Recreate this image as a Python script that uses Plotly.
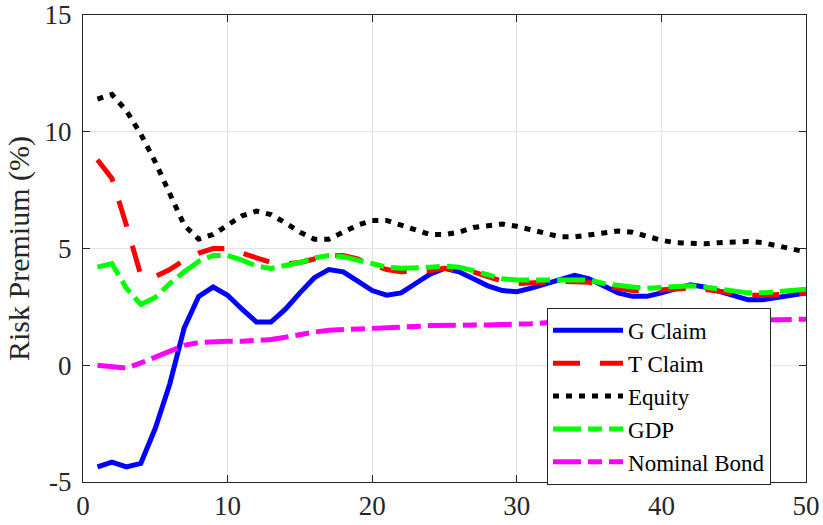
import plotly.graph_objects as go

x = list(range(1, 51))

g_claim = [-4.35, -4.15, -4.35, -4.2, -2.7, -0.8, 1.6, 2.95, 3.35, 3.0,
           2.4, 1.85, 1.85, 2.4, 3.1, 3.75, 4.1, 4.0, 3.6, 3.2,
           3.0, 3.1, 3.5, 3.9, 4.15, 4.0, 3.7, 3.4, 3.2, 3.15,
           3.3, 3.5, 3.7, 3.85, 3.7, 3.4, 3.1, 2.95, 2.95, 3.1,
           3.3, 3.45, 3.35, 3.15, 2.95, 2.8, 2.8, 2.9, 3.0, 3.1]

t_claim = [8.8, 8.0, 6.0, 3.85, 3.8, 4.1, 4.5, 4.8, 5.0, 5.0,
           4.8, 4.6, 4.4, 4.35, 4.4, 4.55, 4.7, 4.7, 4.55, 4.3,
           4.1, 4.0, 4.0, 4.05, 4.15, 4.1, 4.0, 3.8, 3.6, 3.5,
           3.5, 3.55, 3.6, 3.6, 3.55, 3.4, 3.3, 3.2, 3.2, 3.25,
           3.3, 3.3, 3.25, 3.15, 3.05, 3.0, 3.0, 3.0, 3.05, 3.1]

equity = [11.4, 11.6, 10.9, 9.9, 8.7, 7.3, 6.0, 5.4, 5.6, 6.0,
          6.4, 6.6, 6.45, 6.1, 5.7, 5.4, 5.4, 5.7, 6.0, 6.2,
          6.2, 6.0, 5.8, 5.6, 5.6, 5.7, 5.9, 6.0, 6.05, 5.95,
          5.8, 5.6, 5.5, 5.5, 5.6, 5.7, 5.75, 5.7, 5.5, 5.35,
          5.25, 5.2, 5.2, 5.25, 5.3, 5.3, 5.25, 5.1, 4.95, 4.85]

gdp = [4.2, 4.35, 3.3, 2.6, 2.9, 3.5, 4.0, 4.45, 4.7, 4.7,
       4.5, 4.25, 4.15, 4.25, 4.4, 4.6, 4.7, 4.65, 4.5, 4.3,
       4.2, 4.15, 4.15, 4.2, 4.25, 4.2, 4.05, 3.85, 3.7, 3.65,
       3.65, 3.7, 3.7, 3.7, 3.65, 3.5, 3.4, 3.35, 3.3, 3.35,
       3.4, 3.4, 3.35, 3.25, 3.15, 3.1, 3.1, 3.15, 3.2, 3.25]

nominal_bond = [0.0, -0.05, -0.12, 0.1, 0.35, 0.6, 0.85, 0.97, 1.02, 1.03,
                1.03, 1.05, 1.1, 1.2, 1.32, 1.42, 1.5, 1.52, 1.53, 1.55,
                1.58, 1.62, 1.66, 1.7, 1.72, 1.72, 1.72, 1.72, 1.73, 1.75,
                1.78, 1.82, 1.85, 1.87, 1.88, 1.88, 1.88, 1.88, 1.88, 1.88,
                1.88, 1.88, 1.9, 1.9, 1.92, 1.93, 1.94, 1.95, 1.96, 1.97]

names = ["G Claim", "T Claim", "Equity", "GDP", "Nominal Bond"]
colors = ["#0000ff", "#ff0000", "#000000", "#00ff00", "#ff00ff"]
dashes = ["solid", "27px,20px", "6px,7px", "28px,7px,14px,7px", "28px,7px,14px,7px"]
series = [g_claim, t_claim, equity, gdp, nominal_bond]

y_ticks = [-5, 0, 5, 10, 15]
y_ticktext = ["-5", "0", "5", "10", "15"]
x_ticks = [0, 10, 20, 30, 40, 50]

fig = go.Figure()
for name, ys, c, d in zip(names, series, colors, dashes):
    fig.add_trace(go.Scatter(x=x, y=ys, mode="lines", name=name,
                             line=dict(color=c, width=5, dash=d)))

font_family = "Times New Roman, Liberation Serif, serif"
axis_color = "#262626"

fig.update_layout(
    width=823, height=525,
    margin=dict(l=83, r=17, t=15, b=43),
    paper_bgcolor="white", plot_bgcolor="white",
    font=dict(family=font_family, size=27, color=axis_color),
    showlegend=True,
    legend=dict(x=0.6418, y=0.373, xanchor="left", yanchor="top",
                bgcolor="white", bordercolor=axis_color, borderwidth=1,
                font=dict(family=font_family, size=23, color="black"),
                itemwidth=70, tracegroupgap=0),
    xaxis=dict(range=[0, 50], tickvals=x_ticks, showgrid=True, automargin=False,
               gridcolor="#e3e3e3", gridwidth=1, zeroline=False,
               showline=True, linecolor=axis_color, linewidth=1, mirror="ticks",
               ticks="inside", ticklen=7, tickcolor=axis_color,
               tickfont=dict(family=font_family, size=27, color=axis_color)),
    yaxis=dict(range=[-5, 15], tickvals=y_ticks, ticktext=y_ticktext, automargin=False,
               showgrid=True, gridcolor="#e3e3e3", gridwidth=1, zeroline=False,
               showline=True, linecolor=axis_color, linewidth=1, mirror="ticks",
               ticks="inside", ticklen=7, tickcolor=axis_color, ticklabelstandoff=5,
               tickfont=dict(family=font_family, size=27, color=axis_color),
               title=dict(text="Risk Premium (%)",
                          font=dict(family=font_family, size=30, color=axis_color),
                          standoff=6)),
)

fig.write_html("out.html")
